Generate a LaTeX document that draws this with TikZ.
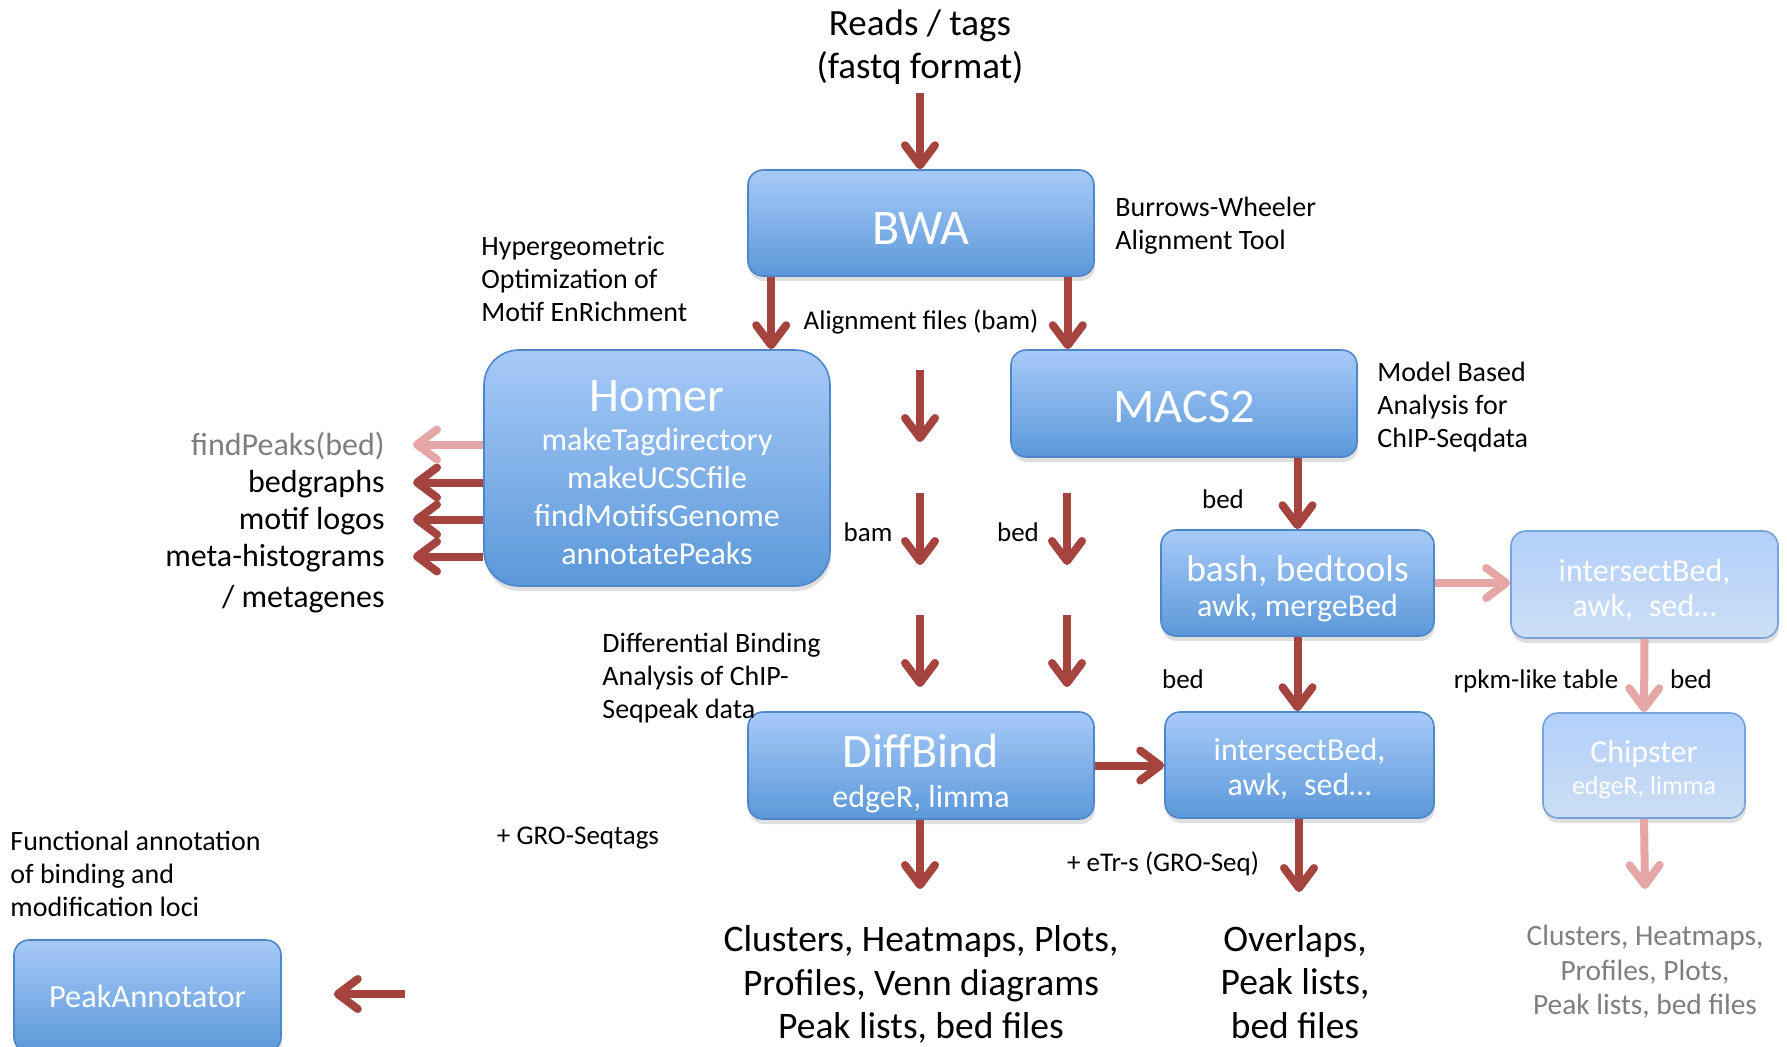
\documentclass[tikz,border=0pt]{standalone}
\usepackage{fontspec}
\setmainfont{Carlito}
\usetikzlibrary{arrows.meta,shadows,calc}
\definecolor{arrred}{HTML}{A5443F}
\definecolor{arrpink}{HTML}{E4A7A5}
\definecolor{boxtop}{HTML}{A7CAF8}
\definecolor{boxbot}{HTML}{5B98D9}
\definecolor{boxline}{HTML}{4F86C8}
\definecolor{fadetop}{HTML}{B2D0FA}
\definecolor{fadebot}{HTML}{CCDEF4}
\definecolor{fadeline}{HTML}{76A3D9}
\definecolor{graytxt}{HTML}{7F7F7F}
\newcommand\myfs[2]{\fontsize{#1}{#2}\selectfont}
\begin{document}
\begin{tikzpicture}[x=0.5pt,y=-0.5pt,
  box/.style={draw=boxline, line width=0.8pt, rounded corners=7.5pt,
    top color=boxtop, bottom color=boxbot, text=white, align=center,
    inner sep=0pt,
    drop shadow={opacity=0.25,shadow xshift=0.5pt,shadow yshift=-2.5pt}},
  fadebox/.style={box, draw=fadeline, top color=fadetop, bottom color=fadebot},
  arr/.style={draw=arrred, line width=4pt,
    -{Straight Barb[length=10pt,width=15pt,round]}},
  parr/.style={arr, draw=arrpink},
  lbl/.style={font=\myfs{14}{16.5}, inner sep=0pt, align=left},
  slbl/.style={font=\myfs{13.5}{16.5}, inner sep=0pt, align=center},
  side/.style={font=\myfs{16}{19}, inner sep=0pt, anchor=east},
  big/.style={font=\myfs{18.75}{21.75}, inner sep=0pt, align=center}
]
\fill[white] (0,0) rectangle (1787,1046);
\useasboundingbox (0,0) rectangle (1787,1046);

% ---------- boxes ----------
\node[box, minimum width=173pt, minimum height=53pt, font=\myfs{25}{28}] (bwa) at (921,223) {\rule{0pt}{21pt}BWA};
\node[box, rounded corners=17.5pt, minimum width=173pt, minimum height=118pt, font=\myfs{16}{19}] (homer) at (657,468)
  {\myfs{24}{28}\rule{0pt}{20.5pt}Homer\\[0.5pt]makeTagdirectory\\makeUCSCfile\\findMotifsGenome\\annotatePeaks};
\node[box, minimum width=173pt, minimum height=53.5pt, font=\myfs{24.2}{28}] (macs) at (1184,403.5) {\rule{0pt}{19pt}MACS2};
\node[box, minimum width=136.5pt, minimum height=53pt, font=\myfs{16}{17.8}] (bash) at (1297.5,583)
  {\myfs{18.7}{20}\rule{0pt}{18.8pt}bash, bedtools\\awk, mergeBed};
\node[fadebox, minimum width=133.5pt, minimum height=53.5pt, font=\myfs{16}{17.5}] (isbb) at (1644.5,584.5)
  {\rule{0pt}{17pt}intersectBed,\\awk,\enspace sed…};
\node[fadebox, minimum width=101pt, minimum height=52.5pt, font=\myfs{13}{16}] (chip) at (1644,765.5)
  {\myfs{16}{18}\rule{0pt}{15.5pt}Chipster\\edgeR, limma};
\node[box, minimum width=134.5pt, minimum height=53pt, font=\myfs{16}{17.5}] (isba) at (1299.5,765)
  {\rule{0pt}{15pt}intersectBed,\\awk,\enspace sed…};
\node[box, minimum width=173pt, minimum height=53.5pt, font=\myfs{16}{20}] (diff) at (921,765.5)
  {\myfs{24}{26}\rule{0pt}{25pt}DiffBind\\edgeR, limma};
\node[box, minimum width=133.5pt, minimum height=56pt, font=\myfs{16.2}{19}] (pa) at (147.5,996) {PeakAnnotator};

% ---------- labels ----------
\node[font=\myfs{18.5}{21.5}, align=center, inner sep=0pt] (reads) at (920,47.5) {Reads / tags\\(fastq format)};
\node[lbl, anchor=west] (bwl) at (1115,226) {Burrows-Wheeler\\Alignment Tool};
\node[lbl, anchor=west] (hyp) at (481,279) {Hypergeometric\\Optimization of\\Motif EnRichment};
\node[slbl] (aln) at (921,321.5) {Alignment files (bam)};
\node[lbl, anchor=west] (mba) at (1377,407.5) {Model Based\\Analysis for\\ChIP-Seqdata};
\node[slbl] (bam) at (868,532) {bam};
\node[slbl] (bedA) at (1018,532) {bed};
\node[slbl] (bedB) at (1223,499) {bed};
\node[slbl] (bedC) at (1183,679.5) {bed};
\node[slbl] (rpkm) at (1536,681) {rpkm-like table};
\node[slbl] (bedD) at (1691,679.5) {bed};
\node[lbl, anchor=west] (dba) at (602,678.5) {Differential Binding\\Analysis of ChIP-\\Seqpeak data};
\node[slbl] (gro) at (578,838.5) {+ GRO-Seqtags};
\node[slbl] (etr) at (1163,863.5) {+ eTr-s (GRO-Seq)};
\node[lbl, anchor=west] (fun) at (10,873.5) {Functional annotation\\of binding and\\modification loci};
\node[big] (outd) at (921,984.5) {Clusters, Heatmaps, Plots,\\Profiles, Venn diagrams\\Peak lists, bed files};
\node[big] (outi) at (1295,982) {Overlaps,\\Peak lists,\\bed files};
\node[font=\myfs{14.7}{17.25}, align=center, inner sep=0pt, text=graytxt] (outc) at (1645,972) {Clusters, Heatmaps,\\Profiles, Plots,\\Peak lists, bed files};

\node[side, text=graytxt] (fp) at (385,446.5) {findPeaks(bed)};
\node[side] (bg) at (385,484.5) {bedgraphs};
\node[side] (ml) at (385,521.5) {motif logos};
\node[side] (mh) at (385,558.5) {meta-histograms};
\node[side] (mg) at (385,599) {/ metagenes};

% ---------- free ends ----------
\coordinate (rdout) at (920,93);
\coordinate (m1a) at (920,370); \coordinate (m1b) at (920,442);
\coordinate (m2a) at (920,493); \coordinate (m2b) at (920,565);
\coordinate (m3a) at (920,615); \coordinate (m3b) at (920,687);
\coordinate (m4a) at (1067,493); \coordinate (m4b) at (1067,565);
\coordinate (m5a) at (1067,615); \coordinate (m5b) at (1067,687);
\coordinate (diffout) at (920,889);
\coordinate (isbout) at (1299,892);
\coordinate (chipout) at (1645,889);
\coordinate (pain) at (405,994);

% ---------- connectors ----------
\draw[arr] (rdout) -- (rdout |- bwa.north);
\draw[arr] ([xshift=12pt]bwa.south west) -- ([xshift=12pt]bwa.south west |- homer.north);
\draw[arr] ([xshift=-13.5pt]bwa.south east) -- ([xshift=-13.5pt]bwa.south east |- macs.north);
\draw[arr] (m1a) -- (m1b);
\draw[arr] (m2a) -- (m2b);
\draw[arr] (m3a) -- (m3b);
\draw[arr] (m4a) -- (m4b);
\draw[arr] (m5a) -- (m5b);
\draw[arr] (macs.south -| bash.north) -- (bash.north);
\draw[parr] (bash.east) -- (bash.east -| isbb.west);
\draw[parr] (isbb.south) -- (chip.north);
\draw[parr] (chip.south) -- (chipout);
\draw[arr] (bash.south) -- (bash.south |- isba.north);
\draw[arr] (diff.east) -- (diff.east -| isba.west);
\draw[arr] (diff.south -| diffout) -- (diffout);
\draw[arr] (isba.south -| isbout) -- (isbout);
\draw[arr, shorten >=26pt] (pain) -- (pain -| pa.east);

\draw[parr] ([yshift=1pt]homer.west |- fp.east) -- ([xshift=14pt,yshift=1pt]fp.east);
\draw[arr] ([yshift=1pt]homer.west |- bg.east) -- ([xshift=14pt,yshift=1pt]bg.east);
\draw[arr] ([yshift=1pt]homer.west |- ml.east) -- ([xshift=14pt,yshift=1pt]ml.east);
\draw[arr] ([yshift=1pt]homer.west |- mh.east) -- ([xshift=14pt,yshift=1pt]mh.east);
\end{tikzpicture}
\end{document}
